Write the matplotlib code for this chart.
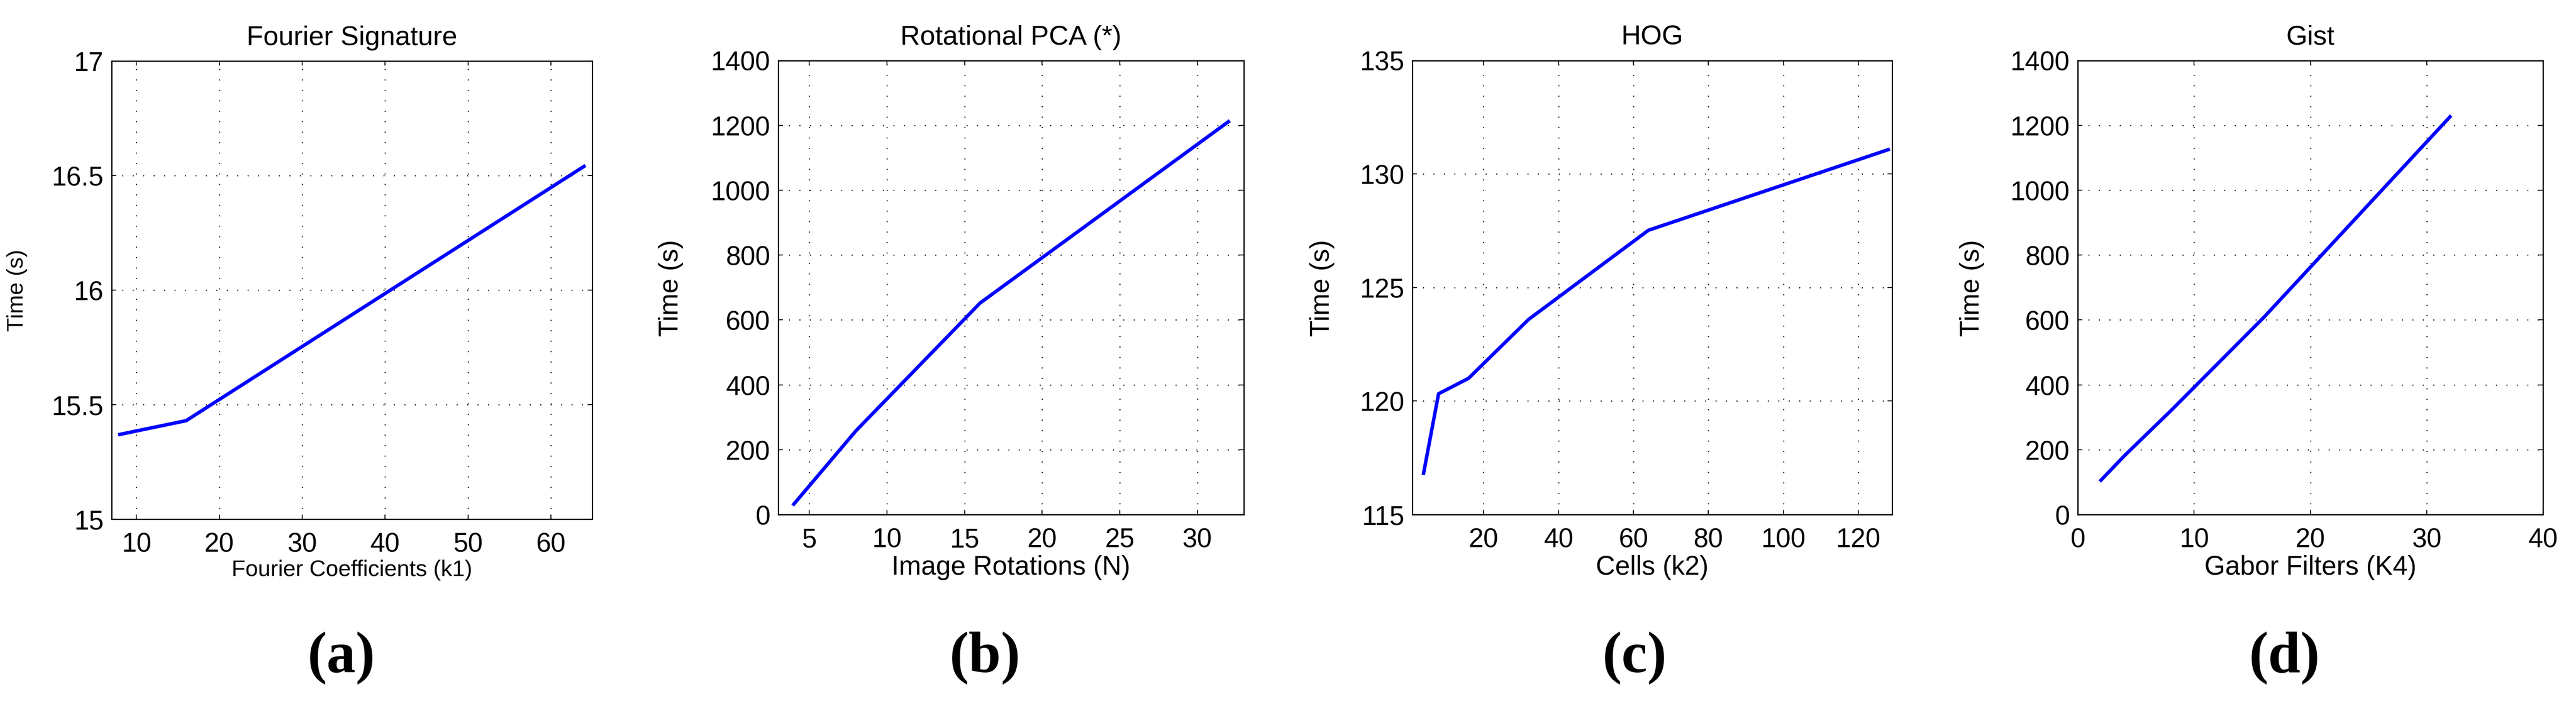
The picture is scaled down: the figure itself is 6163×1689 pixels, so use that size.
import matplotlib
matplotlib.use('Agg')
import matplotlib.pyplot as plt

plt.rcParams['font.family'] = ['Liberation Sans', 'DejaVu Sans']

# Fourier Signature
fourier_k1 = [8, 16, 32, 64]
fourier_time = [15.37, 15.43, 15.80, 16.54]

# Rotational PCA
rpca_n = [4, 8, 16, 32]
rpca_time = [32, 258, 652, 1211]

# HOG
hog_k2 = [4, 8, 16, 32, 64, 128]
hog_time = [116.82, 120.32, 121.0, 123.59, 127.52, 131.07]

# Gist
gist_k4 = [2, 4, 8, 16, 32]
gist_time = [106, 181, 320, 608, 1226]

W, H = 6163, 1690


def box(left, top, right, bottom):
    return [left / W, 1 - bottom / H, (right - left) / W, (bottom - top) / H]


def style(ax):
    ax.grid(True, color='black', linestyle=(0, (1, 9)), linewidth=1.8)
    ax.tick_params(direction='in', length=8, width=1.6, top=True, right=True,
                   labelsize=46, pad=14)
    ax.tick_params(axis='x', pad=22)
    for s in ax.spines.values():
        s.set_linewidth(2.2)


fig = plt.figure(figsize=(W / 100, H / 100), dpi=100)

panels = [
    dict(pos=box(267, 147, 1417, 1243), x=fourier_k1, y=fourier_time,
         title='Fourier Signature', xlabel='Fourier Coefficients (k1)',
         xlim=(7, 65), ylim=(15, 17), xticks=[10, 20, 30, 40, 50, 60],
         yticks=[15, 15.5, 16, 16.5, 17], yticklabels=['15', '15.5', '16', '16.5', '17'],
         lsize=39, ylx=-0.175, tag='(a)', tagx=817),
    dict(pos=box(1862, 145.5, 2976, 1232), x=rpca_n, y=rpca_time,
         title='Rotational PCA (*)', xlabel='Image Rotations (N)',
         xlim=(3, 33), ylim=(0, 1400), xticks=[5, 10, 15, 20, 25, 30],
         yticks=list(range(0, 1401, 200)), yticklabels=None,
         lsize=46, ylx=-0.204, tag='(b)', tagx=2357),
    dict(pos=box(3379, 145.5, 4526.5, 1232), x=hog_k2, y=hog_time,
         title='HOG', xlabel='Cells (k2)',
         xlim=(1, 129), ylim=(115, 135), xticks=[20, 40, 60, 80, 100, 120],
         yticks=[115, 120, 125, 130, 135], yticklabels=None,
         lsize=46, ylx=-0.162, tag='(c)', tagx=3911),
    dict(pos=box(4971, 145.5, 6084, 1232), x=gist_k4, y=gist_time,
         title='Gist', xlabel='Gabor Filters (K4)',
         xlim=(0, 40), ylim=(0, 1400), xticks=[0, 10, 20, 30, 40],
         yticks=list(range(0, 1401, 200)), yticklabels=None,
         lsize=46, ylx=-0.200, tag='(d)', tagx=5466),
]

for p in panels:
    ax = fig.add_axes(p['pos'])
    ax.plot(p['x'], p['y'], color='#0000ff', linewidth=6)
    ax.set_xlim(*p['xlim'])
    ax.set_ylim(*p['ylim'])
    ax.set_xticks(p['xticks'])
    ax.set_yticks(p['yticks'])
    if p['yticklabels']:
        ax.set_yticklabels(p['yticklabels'])
    style(ax)
    ax.set_title(p['title'], fontsize=47, pad=28)
    ax.set_xlabel(p['xlabel'], fontsize=p['lsize'])
    ax.set_ylabel('Time (s)', fontsize=p['lsize'])
    ax.xaxis.set_label_coords(0.5, -0.088)
    ax.yaxis.set_label_coords(p['ylx'], 0.5)
    fig.text(p['tagx'] / W, 1 - 1575 / H, p['tag'], fontsize=100, fontweight='bold',
             family='Liberation Serif', ha='center', va='center')

fig.savefig('out.png', dpi=100)
